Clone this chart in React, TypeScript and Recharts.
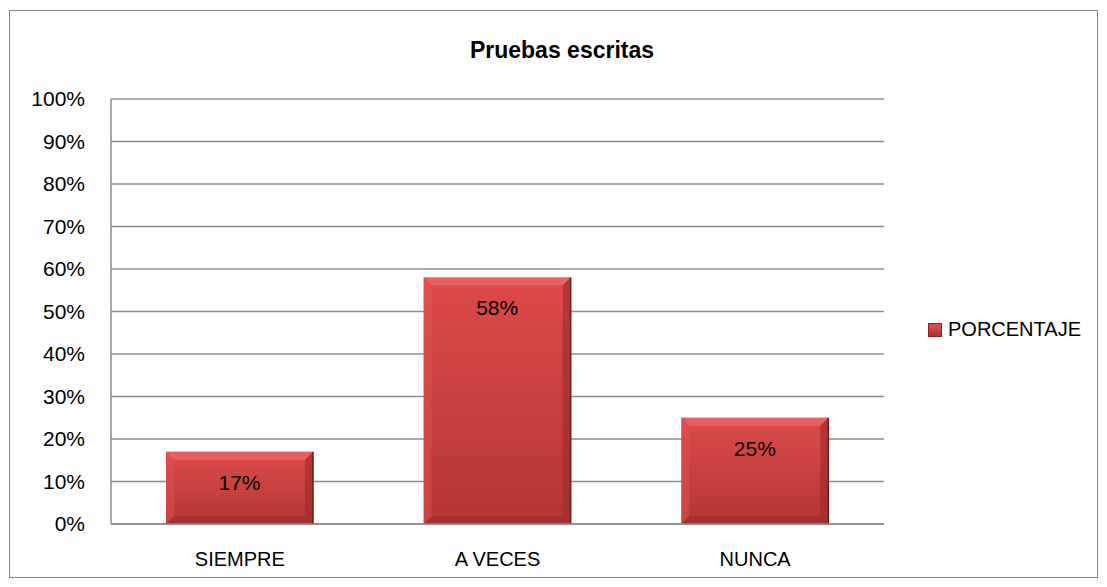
import React from "react";
import { Bar, BarChart, CartesianGrid, LabelList, XAxis, YAxis } from "recharts";

const CATEGORIES = ["SIEMPRE", "A VECES", "NUNCA"];
const PORCENTAJE = [17, 58, 25];
const Y_TICKS = [0, 10, 20, 30, 40, 50, 60, 70, 80, 90, 100];

const data = CATEGORIES.map((name, i) => ({ name, value: PORCENTAJE[i] }));

const FONT = "'Liberation Sans', Arial, sans-serif";
const GRID = "#8c8c8c";

function BevelBar(props: any) {
  const { x, y, width, height } = props;
  if (!height || height <= 0) return null;
  const b = Math.min(8, height / 3);
  return (
    <g>
      <rect x={x} y={y} width={width} height={height} fill="url(#barFill)" />
      <polygon
        points={`${x},${y} ${x + width},${y} ${x + width - b},${y + b} ${x + b},${y + b}`}
        fill="#ec6a6a"
        opacity={0.75}
      />
      <polygon
        points={`${x},${y} ${x + b},${y + b} ${x + b},${y + height - b} ${x},${y + height}`}
        fill="#e05252"
        opacity={0.5}
      />
      <polygon
        points={`${x + width},${y} ${x + width},${y + height} ${x + width - b},${y + height - b} ${x + width - b},${y + b}`}
        fill="#9c2a2a"
        opacity={0.6}
      />
      <polygon
        points={`${x},${y + height} ${x + width},${y + height} ${x + width - b},${y + height - b} ${x + b},${y + height - b}`}
        fill="#962828"
        opacity={0.5}
      />
      <line x1={x + width} y1={y} x2={x + width} y2={y + height} stroke="#6e1a1a" strokeWidth={1.5} />
    </g>
  );
}

export default function App() {
  return (
    <div style={{ position: "absolute", left: 0, top: 0, width: 1107, height: 587, background: "#fff", fontFamily: FONT }}>
      <div
        style={{
          position: "absolute",
          left: 9,
          top: 10,
          width: 1087,
          height: 566,
          border: "1px solid #868686",
        }}
      />
      <div
        style={{
          position: "absolute",
          left: 0,
          width: 1124,
          top: 37,
          textAlign: "center",
          fontSize: 23,
          fontWeight: "bold",
          color: "#000",
        }}
      >
        Pruebas escritas
      </div>
      <BarChart
        width={1107}
        height={587}
        data={data}
        margin={{ top: 99, right: 223, left: 51, bottom: 23 }}
        barSize={147}
      >
        <defs>
          <linearGradient id="barFill" x1="0" y1="0" x2="0" y2="1">
            <stop offset="0%" stopColor="#dd4a4a" />
            <stop offset="100%" stopColor="#b43636" />
          </linearGradient>
        </defs>
        <CartesianGrid vertical={false} stroke={GRID} strokeWidth={1.5} />
        <XAxis
          dataKey="name"
          height={40}
          tickSize={0}
          tickMargin={28}
          axisLine={{ stroke: GRID, strokeWidth: 1.5 }}
          tickLine={false}
          tick={{ fill: "#000", fontSize: 20, fontFamily: FONT }}
        />
        <YAxis
          width={60}
          domain={[0, 100]}
          ticks={Y_TICKS}
          interval={0}
          tickFormatter={(v: number) => `${v}%`}
          tickSize={0}
          tickMargin={26}
          axisLine={{ stroke: GRID, strokeWidth: 1.5 }}
          tickLine={false}
          tick={{ fill: "#000", fontSize: 21, fontFamily: FONT }}
        />
        <Bar dataKey="value" shape={BevelBar} isAnimationActive={false}>
          <LabelList
            dataKey="value"
            position="insideTop"
            offset={23}
            formatter={(v: any) => `${v}%`}
            style={{ fill: "#000", fontSize: 21, fontFamily: FONT }}
          />
        </Bar>
      </BarChart>
      <div
        style={{
          position: "absolute",
          left: 928,
          top: 318,
          display: "flex",
          alignItems: "center",
          fontSize: 20,
          color: "#000",
        }}
      >
        <span
          style={{
            display: "inline-block",
            width: 14,
            height: 14,
            marginRight: 6,
            background: "linear-gradient(#e25656, #a83030)",
            boxShadow: "inset 0 0 0 1px #8a2424",
          }}
        />
        PORCENTAJE
      </div>
    </div>
  );
}
